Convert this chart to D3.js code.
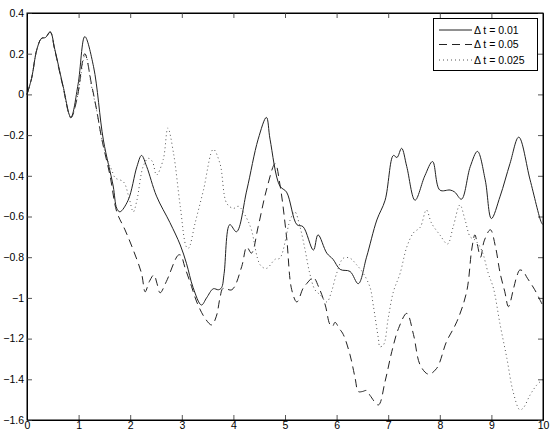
<!DOCTYPE html>
<html><head><meta charset="utf-8">
<script src="https://cdn.jsdelivr.net/npm/d3@7"></script>
<style>body{margin:0;background:#fff}svg{display:block}text{font-family:"Liberation Sans",Arial,sans-serif}</style>
</head><body>
<svg id="c" width="554" height="435"></svg>
<script>
const seriesNames = ["\u0394 t = 0.01", "\u0394 t = 0.05", "\u0394 t = 0.025"];
const xTicks = [0,1,2,3,4,5,6,7,8,9,10];
const yTicks = [0.4,0.2,0,-0.2,-0.4,-0.6,-0.8,-1,-1.2,-1.4,-1.6];

const tSolid = [0,0.09,0.19,0.28,0.36,0.45,0.54,0.70,0.85,0.99,1.12,1.29,1.48,1.67,1.74,1.80,1.96,2.13,2.22,2.32,2.51,2.77,2.97,3.09,3.22,3.38,3.48,3.61,3.71,3.77,3.82,3.93,4.06,4.26,4.48,4.64,4.71,4.90,5.03,5.23,5.35,5.55,5.64,5.81,5.93,6.07,6.26,6.42,6.58,6.78,6.94,7.10,7.17,7.26,7.36,7.52,7.71,7.86,8.0,8.2,8.29,8.42,8.59,8.73,8.88,9.0,9.17,9.36,9.53,9.75,9.97,10];
const vSolid = [0,0.08,0.22,0.275,0.28,0.308,0.22,0.04,-0.112,0.05,0.284,0.136,-0.224,-0.45,-0.56,-0.577,-0.52,-0.355,-0.30,-0.355,-0.50,-0.63,-0.74,-0.83,-0.95,-1.035,-1.0,-0.955,-0.96,-0.95,-0.88,-0.64,-0.675,-0.47,-0.22,-0.113,-0.22,-0.45,-0.48,-0.64,-0.65,-0.765,-0.69,-0.78,-0.81,-0.86,-0.87,-0.93,-0.80,-0.617,-0.52,-0.30,-0.31,-0.265,-0.355,-0.52,-0.40,-0.33,-0.47,-0.47,-0.48,-0.515,-0.355,-0.28,-0.42,-0.61,-0.50,-0.34,-0.21,-0.42,-0.63,-0.64];

const tDash = [0,0.09,0.19,0.28,0.36,0.45,0.54,0.70,0.85,0.97,1.12,1.25,1.35,1.45,1.61,1.74,1.90,2.06,2.22,2.29,2.37,2.46,2.52,2.58,2.70,2.93,2.98,3.06,3.19,3.29,3.45,3.58,3.67,3.74,3.80,3.97,4.16,4.26,4.35,4.48,4.64,4.81,4.90,5.03,5.13,5.23,5.35,5.42,5.55,5.65,5.78,5.87,5.92,5.97,6.05,6.13,6.26,6.36,6.42,6.50,6.58,6.65,6.81,6.94,7.07,7.20,7.36,7.49,7.62,7.78,7.94,8.13,8.33,8.52,8.62,8.68,8.73,8.79,8.86,8.98,9.08,9.17,9.26,9.33,9.43,9.49,9.55,9.62,9.68,9.84,10];
const vDash = [0,0.08,0.22,0.275,0.28,0.305,0.215,0.035,-0.115,-0.02,0.20,0.05,-0.077,-0.22,-0.40,-0.577,-0.666,-0.765,-0.88,-0.97,-0.92,-0.887,-0.93,-0.975,-0.92,-0.79,-0.79,-0.85,-0.945,-1.02,-1.10,-1.133,-1.09,-1.0,-0.953,-0.96,-0.847,-0.75,-0.78,-0.65,-0.47,-0.34,-0.44,-0.70,-0.96,-1.02,-0.953,-0.93,-0.90,-0.945,-1.035,-1.13,-1.14,-1.12,-1.15,-1.18,-1.28,-1.395,-1.46,-1.46,-1.455,-1.48,-1.526,-1.41,-1.264,-1.15,-1.076,-1.18,-1.33,-1.375,-1.346,-1.215,-1.117,-0.97,-0.76,-0.69,-0.74,-0.80,-0.72,-0.665,-0.75,-0.88,-0.97,-1.043,-0.953,-0.896,-0.863,-0.87,-0.896,-0.96,-1.04];

const tDot = [0,0.09,0.19,0.28,0.36,0.45,0.54,0.70,0.85,0.97,1.13,1.25,1.35,1.45,1.57,1.64,1.71,1.87,1.97,2.06,2.13,2.25,2.35,2.43,2.51,2.64,2.73,2.84,2.97,3.09,3.13,3.26,3.42,3.61,3.74,3.87,4.0,4.1,4.26,4.35,4.52,4.64,4.81,4.90,5.1,5.19,5.29,5.39,5.48,5.58,5.68,5.81,5.9,6.0,6.13,6.26,6.39,6.52,6.65,6.71,6.81,6.84,6.91,7.0,7.1,7.23,7.36,7.49,7.62,7.74,7.84,8.0,8.15,8.26,8.39,8.49,8.59,8.68,8.81,8.94,9.04,9.17,9.30,9.42,9.55,9.62,9.75,9.88,10];
const vDot = [0,0.08,0.22,0.275,0.28,0.305,0.215,0.035,-0.115,-0.02,0.195,0.04,-0.08,-0.22,-0.33,-0.37,-0.41,-0.43,-0.50,-0.577,-0.52,-0.355,-0.314,-0.33,-0.396,-0.32,-0.165,-0.29,-0.55,-0.75,-0.756,-0.63,-0.47,-0.27,-0.34,-0.535,-0.56,-0.55,-0.61,-0.666,-0.838,-0.855,-0.81,-0.805,-0.617,-0.577,-0.65,-0.765,-0.88,-0.96,-0.985,-1.02,-0.97,-0.88,-0.805,-0.805,-0.838,-0.88,-0.95,-1.035,-1.2,-1.24,-1.23,-1.1,-0.97,-0.88,-0.75,-0.68,-0.653,-0.568,-0.633,-0.69,-0.735,-0.65,-0.543,-0.617,-0.70,-0.715,-0.765,-0.88,-0.953,-1.133,-1.297,-1.46,-1.55,-1.54,-1.477,-1.428,-1.40];

const svg = d3.select("#c");
const L=27, R=543, T=13, B=420;
const x = d3.scaleLinear().domain([0,10]).range([L,R]);
const y = d3.scaleLinear().domain([-1.6,0.4]).range([B,T]);

const fmt = d => d3.format("")(d).replace("-", "\u2212");

const ax = [
  {g: d3.axisBottom(x).tickValues(xTicks).tickSizeInner(-5).tickSizeOuter(0).tickPadding(2).tickFormat(fmt), tr:`translate(0,${B})`},
  {g: d3.axisTop(x).tickValues(xTicks).tickSizeInner(-5).tickSizeOuter(0).tickFormat(""), tr:`translate(0,${T})`},
  {g: d3.axisLeft(y).tickValues(yTicks).tickSizeInner(-5).tickSizeOuter(0).tickPadding(3).tickFormat(fmt), tr:`translate(${L},0)`},
  {g: d3.axisRight(y).tickValues(yTicks).tickSizeInner(-5).tickSizeOuter(0).tickFormat(""), tr:`translate(${R},0)`}
];
ax.forEach(a => {
  const g = svg.append("g").attr("transform", a.tr).call(a.g);
  g.select(".domain").attr("stroke","#000").attr("stroke-width",1);
  g.selectAll(".tick line").attr("stroke","#555");
  g.selectAll(".tick text").attr("fill","#000").attr("font-size","10.5px").attr("font-family","'Liberation Sans',Arial,sans-serif");
});

const series = [
  {t:tSolid, v:vSolid, dash:null, color:"#222", w:1},
  {t:tDash, v:vDash, dash:"8,5", color:"#222", w:1},
  {t:tDot, v:vDot, dash:"1,3", color:"#555", w:1}
];
const line = d3.line().x(d=>x(d[0])).y(d=>y(d[1])).curve(d3.curveCatmullRom.alpha(0.5));
const plot = svg.append("g");
series.forEach(s => {
  const pts = s.t.map((t,i)=>[t, s.v[i]]);
  plot.append("path").attr("d", line(pts)).attr("fill","none").attr("stroke",s.color)
    .attr("stroke-width",s.w).attr("stroke-dasharray",s.dash);
});

svg.append("rect").attr("x",L).attr("y",T).attr("width",R-L).attr("height",B-T)
  .attr("fill","none").attr("stroke","#000").attr("stroke-width",1);

const lg = svg.append("g");
lg.append("rect").attr("x",433.5).attr("y",18.5).attr("width",104).attr("height",52)
  .attr("fill","#fff").attr("stroke","#000").attr("stroke-width",1);
const rowsY = [30,44.5,60];
series.forEach((s,i) => {
  lg.append("line").attr("x1",439).attr("x2",472).attr("y1",rowsY[i]).attr("y2",rowsY[i])
    .attr("stroke",s.color).attr("stroke-width",s.w).attr("stroke-dasharray",s.dash);
  lg.append("text").attr("x",474).attr("y",rowsY[i]).attr("dy","0.35em")
    .attr("font-size","10.5px").attr("fill","#000").text(seriesNames[i]);
});
</script>
</body></html>
